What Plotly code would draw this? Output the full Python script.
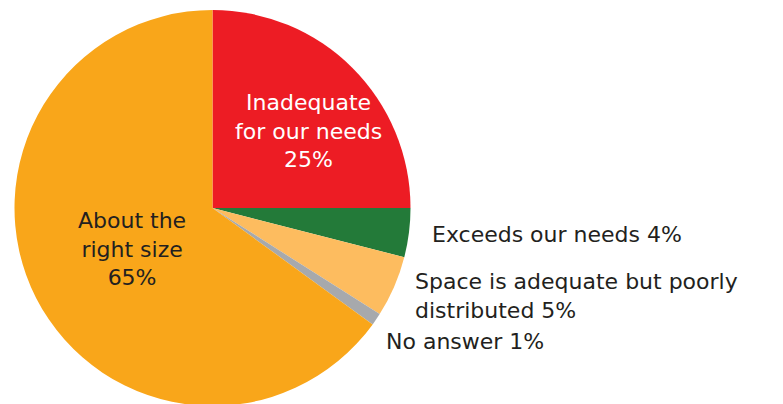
import plotly.graph_objects as go

labels = ["Inadequate for our needs", "Exceeds our needs", "Space is adequate but poorly distributed", "No answer", "About the right size"]
values = [25, 4, 5, 1, 65]
colors = ["#ED1C24", "#237A39", "#FDBC5F", "#A7A9AC", "#F9A61A"]

W, H = 783, 404
T, B = 2, 6
PH = H - T - B
OFF = 8  # page body margin

def px(x):
    return (x - OFF) / W

def py(y):
    return (H - B - (y - OFF)) / PH

FONT = "DejaVu Sans"
DARK = "#231F20"

fig = go.Figure(go.Pie(
    labels=labels,
    values=values,
    sort=False,
    direction="clockwise",
    rotation=0,
    marker=dict(colors=colors, line=dict(width=0)),
    textinfo="none",
    hoverinfo="label+percent",
    showlegend=False,
    domain=dict(x=[0, 409 / W], y=[0, 1]),
))

texts = [
    ("Inadequate<br>for our needs<br>%d%%" % values[0], 308, 131, "center", "white"),
    ("Exceeds our needs %d%%" % values[1], 430, 235, "left", DARK),
    ("Space is adequate but poorly<br>distributed %d%%" % values[2], 413, 296, "left", DARK),
    ("No answer %d%%" % values[3], 384, 341, "left", DARK),
    ("About the<br>right size<br>%d%%" % values[4], 132, 249, "center", DARK),
]

annotations = []
for txt, x, y, anchor, col in texts:
    annotations.append(dict(
        text=txt, x=px(x), y=py(y), xref="paper", yref="paper",
        xanchor=anchor, yanchor="middle", align=anchor, showarrow=False,
        font=dict(family=FONT, size=22, color=col),
    ))

fig.update_layout(
    width=W, height=H,
    margin=dict(l=0, r=0, t=T, b=B),
    paper_bgcolor="white",
    plot_bgcolor="white",
    annotations=annotations,
)

fig.write_html("out.html")
